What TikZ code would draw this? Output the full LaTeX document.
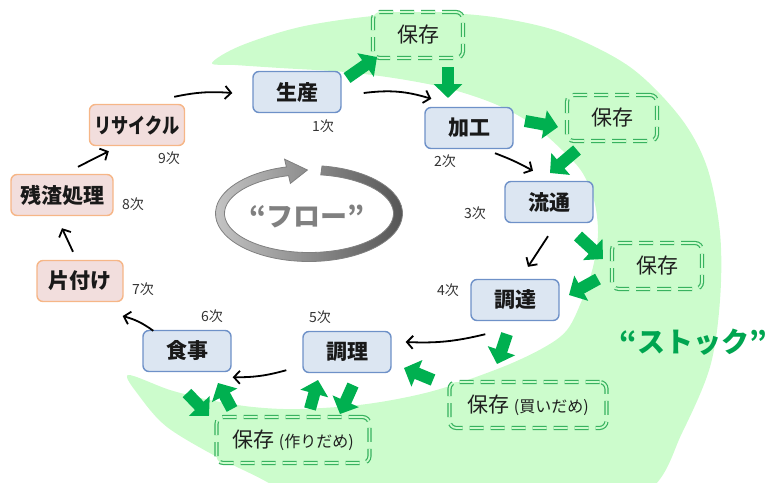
\documentclass[tikz,border=0pt]{standalone}
\usepackage{fontspec}
\setmainfont{Noto Sans CJK JP}
\usetikzlibrary{arrows.meta,calc}
\definecolor{bandgreen}{RGB}{204,252,204}
\definecolor{dgreen}{RGB}{55,178,95}
\definecolor{agreen}{RGB}{0,176,80}
\definecolor{bfill}{RGB}{220,230,242}
\definecolor{bdraw}{RGB}{110,145,200}
\definecolor{pfill}{RGB}{242,222,221}
\definecolor{pdraw}{RGB}{246,182,135}
\definecolor{sgreen}{RGB}{0,165,80}
\tikzset{
  stage/.style={rounded corners=6pt, line width=1.4pt, minimum height=41pt, inner sep=0pt,
    font=\fontsize{21}{24}\selectfont\bfseries, text=black!90},
  bluebox/.style={stage, fill=bfill, draw=bdraw, minimum width=88pt},
  pinkbox/.style={stage, fill=pfill, draw=pdraw},
  ord/.style={font=\fontsize{14}{16}\selectfont, text=black!80, inner sep=0pt},
  stock/.style={draw=dgreen, double=bandgreen, double distance=1.8pt, line width=1.2pt,
    dash pattern=on 14pt off 7pt, rounded corners=7pt, fill=bandgreen, minimum height=46pt,
    inner sep=0pt, font=\fontsize{21}{24}\selectfont, text=black!88},
  flow/.style={line width=1.8pt, -{Straight Barb[length=6pt,width=13pt]}},
  garrow/.style={agreen, line width=12pt, -{Triangle[length=14pt,width=28pt]}}
}
\begin{document}
\begin{tikzpicture}[x=1pt,y=-1pt]
\useasboundingbox (0,0) rectangle (767,482);
% stock band
\fill[bandgreen] plot[smooth cycle, tension=0.55] coordinates {
 (212,63) (240,46) (300,27) (373,16) (440,13) (500,18) (563,33) (630,67) (680,117)
 (707,167) (720,233) (720,300) (710,367) (682,433) (650,490) (560,540) (420,545)
 (320,515) (267,482) (217,457) (167,427) (140,397) (128,375)
 (170,390) (210,400) (253,407) (300,409) (367,404) (433,391) (500,368) (543,348)
 (567,330) (582,300) (593,267) (598,233) (594,200) (582,172) (562,150) (532,124)
 (495,104) (450,89) (400,79) (345,72) (280,68) (235,65)};
% flow ring
\coordinate (rc) at (309,213.5);
\shadedraw[left color=black!22, right color=black!68, draw=black!50, line width=0.8pt]
 ($(rc)+(82:93.5pt and 48pt)$) arc[start angle=82, end angle=-256, x radius=93.5pt, y radius=48pt]
 -- ($(rc)+(104:101pt and 56pt)$) -- ($(rc)+(91:89pt and 43.5pt)$)
 -- ($(rc)+(104:77pt and 31pt)$) -- ($(rc)+(104:84.5pt and 39pt)$)
 arc[start angle=104, end angle=442, x radius=84.5pt, y radius=39pt] -- cycle;
\node[font=\fontsize{27}{30}\selectfont\bfseries, text=black!50] (flowtxt) at (307,217) {“フロー”};
\node[font=\fontsize{28}{30}\selectfont\bfseries, text=sgreen] (stocktxt) at (693,342) {“ストック”};
% stage nodes
\node[bluebox] (seisan) at (297,92) {生産};
\node[bluebox] (kako) at (469,128) {加工};
\node[bluebox] (ryutsu) at (549,202) {流通};
\node[bluebox] (chotatsu) at (515,300) {調達};
\node[bluebox] (chori) at (347,352) {調理};
\node[bluebox] (shokuji) at (187,351) {食事};
\node[pinkbox, minimum width=86pt] (kata) at (80,281) {片付け};
\node[pinkbox, minimum width=102pt] (zansa) at (62,195) {残渣処理};
\node[pinkbox, minimum width=95pt] (rec) at (137,125) {\scalebox{0.82}[1]{リサイクル}};
% order labels
\node[ord] (o1) at (323,126) {1次};
\node[ord] (o2) at (445,161) {2次};
\node[ord] (o3) at (475,213) {3次};
\node[ord] (o4) at (448,290) {4次};
\node[ord] (o5) at (320,317) {5次};
\node[ord] (o6) at (212,316) {6次};
\node[ord] (o7) at (143,289) {7次};
\node[ord] (o8) at (133,204) {8次};
\node[ord] (o9) at (169,158) {9次};
% stock boxes
\node[stock, minimum width=90pt] (s1) at (418,35) {保存};
\node[stock, minimum width=90pt] (s2) at (612,118) {保存};
\node[stock, minimum width=90pt] (s3) at (657,266) {保存};
\node[stock, minimum width=157pt] (s4) at (528,405) {保存 {\fontsize{16}{18}\selectfont(買いだめ)}};
\node[stock, minimum width=153pt] (s5) at (293,440) {保存 {\fontsize{16}{18}\selectfont(作りだめ)}};
% flow arrows
\draw[flow] ($(rec.north east)+(-11,-7)$) to[bend left=8] ($(seisan.west)+(-20,1)$);
\draw[flow] ($(seisan.east)+(22,1)$) to[bend left=12] ($(kako.north west)+(7,-8)$);
\draw[flow] ($(kako.south)+(26,4)$) to[bend left=4] ($(ryutsu.north)+(-16,-10)$);
\draw[flow] ($(ryutsu.south)+(-1,13)$) -- ($(chotatsu.north)+(13,-12)$);
\draw[flow] ($(chotatsu.south west)+(15,13)$) to[bend left=8] ($(chori.east)+(14,-10)$);
\draw[flow] ($(chori.south west)+(-16,-3)$) to[bend left=8] ($(shokuji.south east)+(1,5)$);
\draw[flow] ($(shokuji.north west)+(11,1)$) to[bend right=10] ($(kata.east)+(-1,35)$);
\draw[flow] ($(kata.north)+(-7,-8)$) -- ($(zansa.south)+(0,12)$);
\draw[flow] ($(zansa.north)+(16,-7)$) -- ($(rec.south west)+(20,5)$);
% green stock arrows
\coordinate (g1a) at (347,78); \coordinate (g1b) at (377,57);
\coordinate (g2a) at (448,67); \coordinate (g2b) at (448,98);
\coordinate (g3a) at (525,121); \coordinate (g3b) at (558,127);
\coordinate (g4a) at (577,150); \coordinate (g4b) at (550,173);
\coordinate (g5a) at (578,236); \coordinate (g5b) at (603,259);
\coordinate (g6a) at (598,279); \coordinate (g6b) at (569,295);
\coordinate (g7a) at (507,334); \coordinate (g7b) at (497,364);
\coordinate (g8a) at (433,380); \coordinate (g8b) at (404,368);
\coordinate (g9a) at (353,385); \coordinate (g9b) at (340,414);
\coordinate (g10a) at (310,409); \coordinate (g10b) at (318,380);
\coordinate (g11a) at (187,393); \coordinate (g11b) at (209,416);
\coordinate (g12a) at (232,409); \coordinate (g12b) at (218,383);
\foreach \i in {1,...,12} {\draw[garrow] (g\i a) -- (g\i b);}
\end{tikzpicture}
\end{document}
